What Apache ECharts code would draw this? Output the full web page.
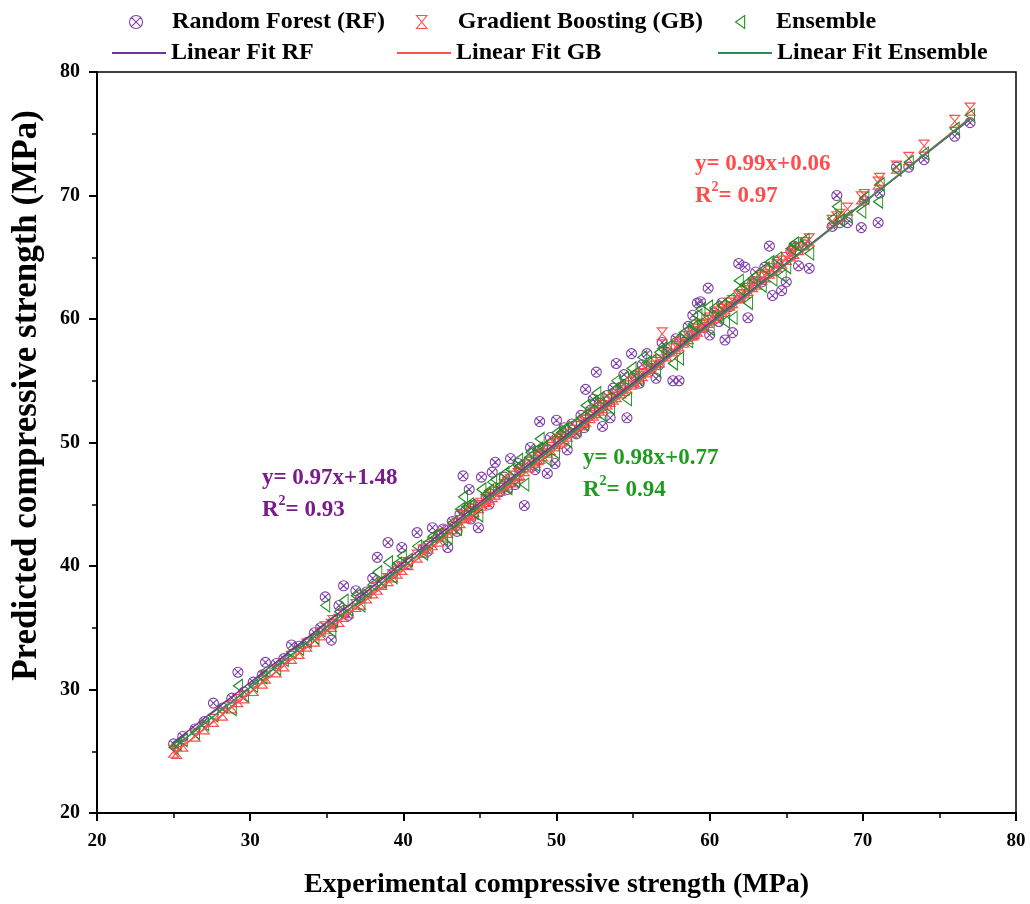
<!DOCTYPE html>
<html>
<head>
<meta charset="utf-8">
<script src="https://cdn.jsdelivr.net/npm/echarts@6/dist/echarts.min.js"></script>
<style>html,body{margin:0;padding:0;background:#fff}#c{width:1030px;height:904px}</style>
</head>
<body>
<div id="c"></div>
<script>
const experimental = [25.0,25.2,25.6,26.4,27.0,27.6,28.2,28.8,29.2,29.6,30.2,30.8,31.0,31.7,32.2,32.7,33.2,33.7,34.2,34.6,34.9,35.3,35.4,35.8,36.1,36.4,36.9,37.2,37.6,38.0,38.3,38.6,39.0,39.3,39.6,39.9,40.3,40.9,41.3,41.6,41.9,42.3,42.6,42.9,43.2,43.5,43.7,43.9,44.1,44.3,44.4,44.6,44.9,45.1,45.4,45.6,45.8,46.0,46.3,46.6,46.8,47.0,47.3,47.5,47.6,47.9,48.2,48.3,48.6,48.8,48.9,49.1,49.4,49.6,49.9,50.0,50.3,50.5,50.7,51.0,51.3,51.6,51.8,51.9,52.2,52.4,52.6,52.8,53.0,53.3,53.5,53.7,53.9,54.2,54.4,54.6,54.9,55.1,55.4,55.6,55.9,56.2,56.5,56.7,56.9,57.2,57.6,57.8,58.0,58.3,58.6,58.9,59.0,59.2,59.4,59.6,59.9,60.0,60.3,60.6,60.8,61.0,61.3,61.5,61.9,62.0,62.3,62.5,62.8,63.0,63.4,63.6,63.9,64.1,64.4,64.7,65.0,65.3,65.5,65.8,66.2,66.5,68.0,68.3,68.5,69.0,69.9,70.1,71.0,71.1,72.2,73.0,74.0,76.0,77.0];
const predictedRF = [25.6,25.4,26.2,26.8,27.4,28.9,28.5,29.3,31.4,29.8,30.6,31.2,32.2,32.1,32.5,33.6,33.5,33.8,34.6,35.0,37.5,34.0,35.3,36.8,38.4,36.0,38.0,37.4,37.9,39.0,40.7,38.6,41.9,39.4,40.0,41.5,40.2,42.7,41.4,41.2,43.1,42.5,43.0,41.5,43.6,42.8,44.2,47.3,44.5,46.2,43.8,44.9,43.1,47.2,45.6,45.0,47.6,48.4,46.0,47.2,46.2,48.7,46.6,48.3,47.9,44.9,48.5,49.6,47.8,49.3,51.7,49.5,47.5,50.4,48.3,51.8,50.6,51.2,49.4,51.5,50.7,52.2,51.2,54.3,52.6,53.5,55.7,53.2,51.3,53.8,52.0,54.4,56.4,54.5,55.5,52.0,57.2,55.4,54.8,56.3,57.2,56.0,55.2,56.3,58.1,57.3,55.0,58.4,55.0,58.6,59.4,60.3,58.7,61.3,61.4,59.3,62.5,58.7,60.5,59.8,61.3,58.3,61.0,58.9,64.5,61.7,64.2,60.1,62.9,63.8,63.0,64.2,65.9,61.9,64.6,62.3,63.0,65.5,65.9,64.3,66.0,64.1,67.5,70.0,67.8,67.8,67.4,69.6,67.8,70.2,72.3,72.3,72.9,74.8,75.9];
const predictedGB = [25.0,24.9,25.5,26.3,26.9,27.5,28.0,28.6,29.1,29.4,30.0,30.6,31.0,31.5,32.0,32.6,33.0,33.6,34.0,34.5,35.0,35.2,35.5,35.6,36.0,36.3,36.8,37.0,37.5,37.9,38.2,38.6,38.9,39.2,39.5,39.8,40.2,40.8,41.2,41.5,41.8,42.1,42.5,42.8,43.1,43.4,43.6,44.0,44.0,44.2,44.3,44.5,44.8,45.0,45.3,45.5,45.7,45.9,46.2,46.5,46.7,46.9,47.2,47.4,47.5,47.8,48.1,48.3,48.5,48.7,48.8,49.0,49.3,49.5,49.8,50.0,50.2,50.4,50.6,50.9,51.2,51.5,51.7,51.8,52.1,52.3,52.5,52.7,52.9,53.2,53.4,53.6,53.8,54.1,54.3,54.5,54.8,55.0,55.3,55.5,55.8,56.1,56.4,56.6,58.8,57.1,57.5,57.7,57.9,58.2,58.5,58.8,58.9,59.1,59.4,59.5,59.8,60.0,60.2,60.5,60.7,60.9,61.2,61.4,61.8,61.9,62.2,62.4,62.7,62.9,63.3,63.5,63.8,64.0,64.3,64.6,64.9,65.2,65.4,65.7,66.1,66.4,67.9,68.2,68.4,68.9,69.8,70.0,71.0,71.3,72.3,73.0,74.0,76.0,77.0];
const predictedEnsemble = [25.3,25.6,25.9,26.5,27.2,27.9,28.6,28.4,30.3,29.5,30.3,31.0,31.5,31.7,32.4,33.0,33.3,33.9,34.2,34.8,36.8,34.8,35.6,36.3,37.2,36.5,37.6,36.8,37.9,38.5,39.5,38.8,40.3,39.1,40.2,40.8,40.5,41.6,41.0,41.9,42.4,42.6,42.2,42.3,43.5,43.0,44.6,45.6,44.8,45.0,44.9,44.3,44.1,46.2,45.8,46.1,46.8,47.0,46.5,47.5,46.3,47.8,46.9,48.6,48.1,46.6,48.8,49.2,48.2,49.5,50.3,49.6,48.6,50.0,49.2,50.8,50.8,51.1,50.1,51.4,51.0,52.0,51.5,53.0,52.5,53.3,54.0,53.6,52.2,53.5,52.8,54.2,55.0,54.6,55.2,53.5,56.0,55.6,55.1,56.9,56.5,56.6,55.8,57.3,57.6,57.7,56.4,58.3,56.8,58.9,58.2,59.6,59.4,60.3,60.8,59.8,61.0,59.2,60.9,60.2,61.1,59.8,61.6,60.1,63.1,62.4,62.8,61.3,63.3,63.5,62.7,64.1,64.6,63.2,64.9,63.5,64.2,65.7,66.1,65.9,66.4,65.3,68.1,69.1,68.0,68.3,68.7,69.8,69.5,70.9,72.1,72.7,73.4,75.4,76.5];

const seriesNames = ['Random Forest (RF)', 'Gradient Boosting (GB)', 'Ensemble'];
const fitNames = ['Linear Fit RF', 'Linear Fit GB', 'Linear Fit Ensemble'];
const fitSlopes = [0.97, 0.99, 0.98];
const fitIntercepts = [1.48, 0.06, 0.77];
const fitRange = [25, 77];
const r2Values = ['0.93', '0.97', '0.94'];
const axisTicks = [20, 30, 40, 50, 60, 70, 80];

const markerColors = ['#7f3fa8', '#ff4d4d', '#1f8f1f'];
const lineColors = ['#7030a0', '#ff5050', '#2e8b57'];
const textColors = ['#7a1a8c', '#ff4d4d', '#1f9a1f'];
const FONT = '"Liberation Serif", "Times New Roman", serif';

const pairs = (ys) => experimental.map((x, i) => [x, ys[i]]);
const preds = [predictedRF, predictedGB, predictedEnsemble];
const symbols = [
  'path://M0,-10A10,10 0 1,1 0,10A10,10 0 1,1 0,-10M-7,-7L7,7M7,-7L-7,7',
  'path://M-8,-10L8,-10L-8,10L8,10Z',
  'path://M-7,0L7,-10L7,10Z'
];
const symSizes = [10, [10, 12], [9, 13]];

const series = [];
preds.forEach((p, i) => {
  series.push({
    name: seriesNames[i], type: 'scatter', data: pairs(p),
    symbol: symbols[i], symbolSize: symSizes[i], z: 2 + i,
    itemStyle: { color: 'rgba(0,0,0,0)', borderColor: markerColors[i], borderWidth: 1.1, opacity: 1 }
  });
});
fitSlopes.forEach((s, i) => {
  series.push({
    name: fitNames[i], type: 'line', showSymbol: false, symbol: 'none', z: 6,
    data: fitRange.map(x => [x, s * x + fitIntercepts[i]]),
    lineStyle: { color: lineColors[i], width: 1.5 }, itemStyle: { color: lineColors[i] }
  });
});

const legendText = { fontFamily: FONT, fontWeight: 'bold', fontSize: 24, color: '#000' };
const mkSymLegend = (i, left, top) => ({
  data: [{ name: seriesNames[i], icon: symbols[i],
    itemStyle: { color: 'rgba(0,0,0,0)', borderColor: markerColors[i], borderWidth: 1.1 } }],
  left: left, top: top, itemWidth: 62, itemHeight: 13, symbolKeepAspect: true,
  textStyle: legendText, padding: 0
});
const mkLineLegend = (i, left, top) => ({
  data: [{ name: fitNames[i], icon: 'rect', itemStyle: { color: lineColors[i], borderWidth: 0 } }],
  left: left, top: top, itemWidth: 54, itemHeight: 2, textStyle: legendText, padding: 0
});

const axisCommon = {
  min: 20, max: 80, interval: 10,
  axisLine: { lineStyle: { color: '#000', width: 2 } },
  axisTick: { inside: false, length: 8, lineStyle: { color: '#000', width: 2 } },
  minorTick: { show: true, splitNumber: 2, length: 5, lineStyle: { color: '#000', width: 1.5 } },
  splitLine: { show: false }
};

const annot = (i, left, top) => ({
  type: 'text', left: left, top: top, z: 20,
  style: {
    text: '{a|y= ' + fitSlopes[i].toFixed(2) + 'x+' + fitIntercepts[i].toFixed(2) + '}\n{a|R}{s|2}{a|= ' + r2Values[i] + '}',
    rich: {
      a: { fontFamily: FONT, fontWeight: 'bold', fontSize: 23, fill: textColors[i], lineHeight: 32 },
      s: { fontFamily: FONT, fontWeight: 'bold', fontSize: 14, fill: textColors[i], verticalAlign: 'top', lineHeight: 32, padding: [0, 0, 10, 0] }
    }
  }
});

const chart = echarts.init(document.getElementById('c'));
chart.setOption({
  backgroundColor: '#fff',
  animation: false,
  grid: { left: 97, right: 14, top: 72, bottom: 91, containLabel: false, outerBoundsMode: 'none',
    show: true, borderColor: '#000', borderWidth: 1.5, backgroundColor: 'transparent' },
  legend: [
    mkSymLegend(0, 129, 10),
    mkSymLegend(1, 416, 10),
    mkSymLegend(2, 735, 10),
    mkLineLegend(0, 112, 41),
    mkLineLegend(1, 397, 41),
    mkLineLegend(2, 718, 41)
  ],
  xAxis: Object.assign({}, axisCommon, {
    type: 'value', name: 'Experimental compressive strength (MPa)', nameLocation: 'middle', nameGap: 58,
    nameTextStyle: { fontFamily: FONT, fontWeight: 'bold', color: '#000', fontSize: 28 },
    axisLabel: { fontFamily: FONT, fontWeight: 'bold', fontSize: 19, color: '#000', margin: 19,
      formatter: v => axisTicks.includes(v) ? String(v) : '' }
  }),
  yAxis: Object.assign({}, axisCommon, {
    type: 'value', name: 'Predicted compressive strength (MPa)', nameLocation: 'middle', nameGap: 53,
    nameTextStyle: { fontFamily: FONT, fontWeight: 'bold', color: '#000', fontSize: 35, padding: [0, 0, 0, 94] },
    axisLabel: { fontFamily: FONT, fontWeight: 'bold', fontSize: 20, color: '#000', margin: 17,
      formatter: v => axisTicks.includes(v) ? String(v) : '' }
  }),
  graphic: [annot(0, 262, 467), annot(1, 695, 153), annot(2, 583, 447)],
  series: series
});
</script>
</body>
</html>
